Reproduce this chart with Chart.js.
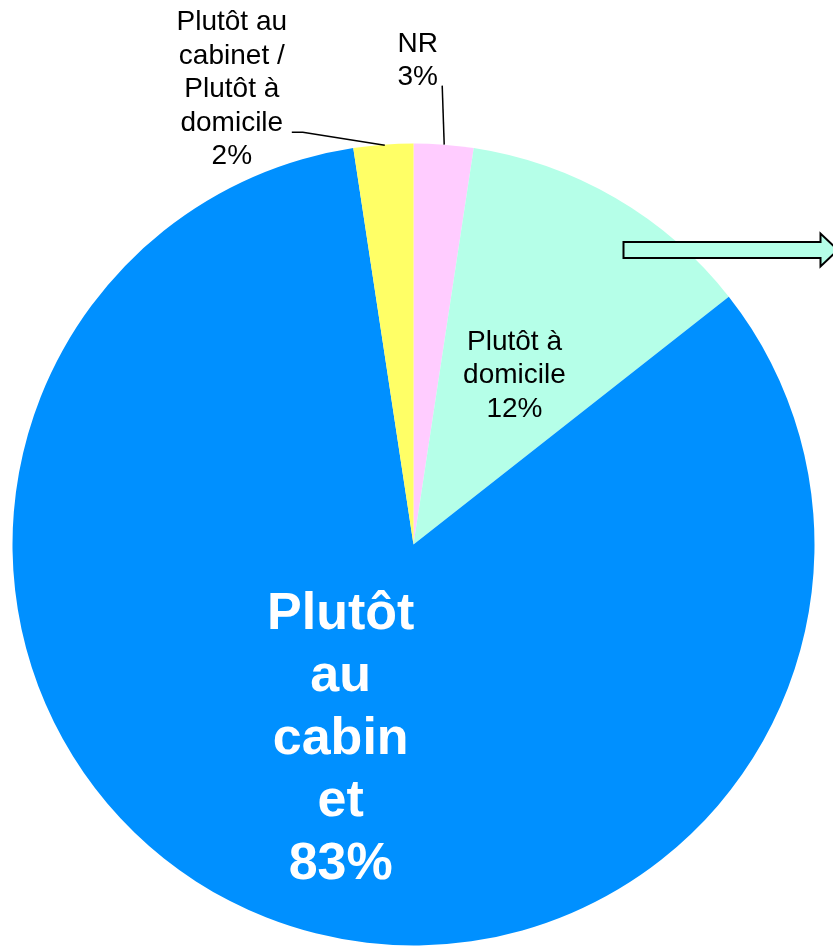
<!DOCTYPE html>
<html>
<head>
<meta charset="utf-8">
<script src="https://cdn.jsdelivr.net/npm/chart.js@4/dist/chart.umd.min.js"></script>
<style>
html,body{margin:0;padding:0;background:#fff;}
#c{display:block;}
</style>
</head>
<body>
<canvas id="c" width="833" height="946"></canvas>
<script>
// ---- data ----
const categories = ["NR", "Plutôt à domicile", "Plutôt au cabinet", "Plutôt au cabinet / Plutôt à domicile"];
const values = [2.4, 12.0, 83.2, 2.4];
const percentLabels = ["3%", "12%", "83%", "2%"];
const labelLines = [
  ["NR"],
  ["Plutôt à", "domicile"],
  ["Plutôt", "au", "cabin", "et"],
  ["Plutôt au", "cabinet /", "Plutôt à", "domicile"]
];
const colors = ["#FFCCFF", "#B5FFE8", "#0090FF", "#FFFF66"];

const FONT = "'Liberation Sans', Arial, sans-serif";

const labelPlugin = {
  id: 'pieLabels',
  afterDatasetsDraw(chart) {
    const ctx = chart.ctx;
    const meta = chart.getDatasetMeta(0);
    ctx.save();
    meta.data.forEach((arc, i) => {
      const p = arc.getProps(['x', 'y', 'startAngle', 'endAngle', 'outerRadius'], true);
      const mid = (p.startAngle + p.endAngle) / 2;
      const lines = labelLines[i].concat([percentLabels[i]]);
      const outer = { x: p.x + Math.cos(mid) * p.outerRadius, y: p.y + Math.sin(mid) * p.outerRadius };
      const half = { x: p.x + Math.cos(mid) * p.outerRadius * 0.5, y: p.y + Math.sin(mid) * p.outerRadius * 0.5 };
      ctx.textAlign = 'center';
      ctx.textBaseline = 'alphabetic';
      if (i === 2) {
        ctx.fillStyle = '#FFFFFF';
        ctx.font = 'bold 52px ' + FONT;
        const lh = 62.5;
        const y0 = half.y + 23 - (lines.length - 1) / 2 * lh;
        lines.forEach((t, k) => ctx.fillText(t, half.x + 1, y0 + k * lh));
      } else if (i === 1) {
        ctx.fillStyle = '#000000';
        ctx.font = '28px ' + FONT;
        const lh = 33.5;
        const y0 = half.y + 12 - (lines.length - 1) / 2 * lh;
        lines.forEach((t, k) => ctx.fillText(t, half.x, y0 + k * lh));
      } else {
        ctx.fillStyle = '#000000';
        ctx.font = '28px ' + FONT;
        const lh = 33.5;
        ctx.strokeStyle = '#000000';
        ctx.lineWidth = 1.5;
        ctx.beginPath();
        if (i === 0) {
          ctx.moveTo(outer.x + 0.5, outer.y);
          ctx.lineTo(outer.x - 1.5, outer.y - 59);
          ctx.stroke();
          const tx = outer.x - 26, y0 = outer.y - 93;
          lines.forEach((t, k) => ctx.fillText(t, tx, y0 + k * lh));
        } else {
          ctx.moveTo(outer.x + 1.5, outer.y + 0.5);
          ctx.lineTo(outer.x - 80.5, outer.y - 12.5);
          ctx.lineTo(outer.x - 91.5, outer.y - 12.5);
          ctx.stroke();
          const tx = outer.x - 151.5, y0 = outer.y - 114.5;
          lines.forEach((t, k) => ctx.fillText(t, tx, y0 + k * lh));
        }
      }
    });
    // decorative block arrow pointing right from the "à domicile" slice
    ctx.beginPath();
    ctx.moveTo(623.5, 242);
    ctx.lineTo(820.5, 242);
    ctx.lineTo(820.5, 233.5);
    ctx.lineTo(838, 250);
    ctx.lineTo(820.5, 266.5);
    ctx.lineTo(820.5, 258);
    ctx.lineTo(623.5, 258);
    ctx.closePath();
    ctx.fillStyle = colors[1];
    ctx.fill();
    ctx.lineWidth = 2;
    ctx.strokeStyle = '#000000';
    ctx.lineJoin = 'miter';
    ctx.stroke();
    ctx.restore();
  }
};

new Chart(document.getElementById('c'), {
  type: 'pie',
  data: {
    labels: categories,
    datasets: [{
      data: values,
      backgroundColor: colors,
      borderWidth: 0,
      hoverOffset: 0
    }]
  },
  options: {
    responsive: false,
    animation: false,
    devicePixelRatio: 1,
    layout: { padding: { top: 143.5, bottom: 0.5, left: 12.5, right: 18.5 } },
    plugins: {
      legend: { display: false },
      tooltip: { enabled: false },
      title: { display: false }
    }
  },
  plugins: [labelPlugin]
});
</script>
</body>
</html>
